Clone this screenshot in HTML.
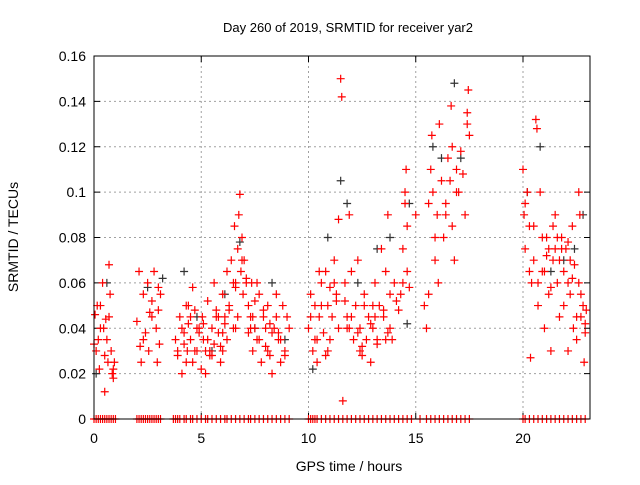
<!DOCTYPE html>
<html><head><meta charset="utf-8"><style>
body{margin:0;background:#fff;}
svg text{font-family:"Liberation Sans",sans-serif;}
</style></head><body>
<svg id="chart" width="640" height="480">
<text x="348" y="32" font-size="13" text-anchor="middle">Day 260 of 2019, SRMTID for receiver yar2</text>
<text x="349" y="471" font-size="14" text-anchor="middle">GPS time / hours</text>
<text x="18" y="237" font-size="14" text-anchor="middle" transform="rotate(-90 18 237)">SRMTID / TECUs</text>
<g id="grid"></g><g id="ticks"></g><g id="marks"></g>
<rect x="94" y="56" width="496" height="363" fill="none" stroke="#000" stroke-width="1"/>
</svg>
<script>
const xTicks=[0,5,10,15,20];
const yTicks=[0,0.02,0.04,0.06,0.08,0.1,0.12,0.14,0.16];
const yTickLabels=["0","0.02","0.04","0.06","0.08","0.1","0.12","0.14","0.16"];
const redT=[0,.05,.1,.15,.2,.25,.3,.4,.45,.5,.55,.6,.65,.7,.75,.8,.85,.9,.95,.5,
2,2.1,2.15,2.2,2.3,2.4,2.5,2.55,2.6,2.7,2.8,2.9,2.95,3,3.05,3.1,
3.8,3.9,4,4.1,4.2,4.3,4.35,4.4,4.5,4.6,4.7,4.8,4.9,5,5.05,5.1,5.2,5.3,5.4,5.5,5.6,5.7,5.8,5.9,6,6.1,6.2,6.3,6.4,6.5,6.55,6.6,6.7,6.75,6.8,6.85,6.9,6.95,7,7.1,7.2,7.3,7.35,7.4,7.5,7.6,7.7,7.8,7.9,8,8.1,8.2,8.3,8.4,8.5,8.6,8.7,8.8,8.9,9,9.1,6.2,5.6,4.6,7.6,5.2,6,4.4,5.8,6.6,7.2,8.2,
10,10.1,10.2,10.3,10.4,10.5,10.6,10.7,10.8,10.9,11,11.1,11.2,11.3,11.4,11.5,11.55,11.6,11.7,11.8,11.9,12,12.1,12.2,12.3,12.4,12.5,12.6,12.7,12.8,12.9,13,13.1,13.2,13.3,13.4,13.5,13.6,13.7,13.8,13.9,14,14.2,14.4,14.5,14.55,14.6,14.7,14.5,14.6,10.5,11,11.8,12.4,13,13.6,
15,15.4,15.5,15.6,15.7,15.75,15.8,15.9,16,16.05,16.1,16.3,16.4,16.5,16.6,16.65,16.7,16.8,16.9,17,17.1,17.3,17.4,17.45,17.5,
20,20.05,20.1,20.2,20.3,20.35,20.4,20.5,20.6,20.65,20.7,20.8,20.9,21,21.1,21.2,21.3,21.4,21.5,21.6,21.7,21.8,21.9,22,22.1,22.2,22.3,22.35,22.4,22.5,22.6,22.65,22.7,22.8,22.85,22.9,22.95,21.2,21.6,22.1,
0.3,0.7,0.9,2.3,2.7,3.0,3.9,4.1,4.3,4.5,4.7,4.9,5.1,5.3,5.5,5.7,5.9,6.1,6.3,6.5,6.7,6.9,7.1,7.3,7.5,7.7,7.9,8.1,8.3,8.5,8.7,8.9,4.2,4.8,5.4,6.0,6.6,7.4,8.0,8.6,
10.1,10.3,10.6,10.9,11.2,11.4,11.7,12.0,12.3,12.6,12.9,13.2,13.5,13.8,14.1,14.4,10.4,10.8,11.3,11.9,12.5,13.1,13.7,14.3,
15.6,15.9,16.2,16.4,16.7,16.9,17.2,17.4,
20.1,20.3,20.5,20.7,20.9,21.1,21.3,21.5,21.7,21.9,22.1,22.3,22.5,22.7,22.9,21.0,21.4,21.8,22.2,22.6];
const redV=[.033,.046,.03,.05,.035,.022,.05,.06,.04,.028,.044,.035,.025,.068,.055,.03,.02,.018,.025,.012,
.043,.065,.032,.025,.055,.038,.06,.03,.047,.052,.065,.04,.025,.048,.033,.055,
.035,.028,.045,.02,.038,.05,.03,.042,.035,.025,.048,.03,.04,.022,.045,.035,.03,.052,.028,.04,.033,.045,.038,.025,.055,.042,.065,.048,.07,.06,.085,.04,.075,.09,.099,.065,.08,.055,.07,.062,.05,.045,.06,.03,.04,.035,.055,.025,.045,.032,.05,.028,.02,.04,.055,.035,.025,.05,.03,.045,.04,.035,.06,.058,.06,.02,.03,.05,.045,.06,.038,.042,
.04,.055,.03,.05,.025,.045,.06,.038,.065,.05,.035,.045,.07,.055,.088,.15,.142,.008,.06,.045,.09,.065,.035,.05,.07,.04,.028,.055,.035,.045,.025,.04,.06,.033,.05,.075,.045,.065,.09,.055,.035,.06,.048,.075,.095,.11,.065,.058,.1,.085,.065,.058,.04,.03,.05,.035,
.09,.05,.04,.055,.11,.125,.1,.07,.09,.06,.13,.08,.095,.115,.105,.138,.085,.07,.11,.1,.118,.09,.13,.145,.125,
.11,.09,.075,.1,.085,.027,.06,.07,.132,.128,.05,.1,.065,.04,.08,.055,.03,.07,.09,.06,.045,.08,.065,.075,.03,.055,.085,.04,.068,.035,.1,.09,.045,.05,.025,.038,.048,.075,.08,.06,
.04,.045,.022,.035,.045,.058,.03,.04,.025,.045,.03,.038,.042,.035,.028,.048,.032,.045,.05,.04,.045,.07,.06,.04,.052,.035,.048,.03,.038,.045,.035,.028,.033,.04,.03,.038,.058,.045,.04,.038,
.045,.035,.05,.03,.06,.04,.052,.045,.038,.05,.042,.035,.048,.04,.052,.06,.035,.028,.052,.04,.032,.045,.038,.055,
.095,.08,.105,.09,.12,.1,.108,.135,
.095,.065,.085,.06,.08,.072,.058,.075,.07,.05,.078,.062,.045,.055,.042,.065,.085,.075,.07,.06];
const blackT=[0.1,0.6,2.5,3.2,4.2,4.8,5.5,6.1,6.8,7.5,8.3,8.9,10.2,10.9,11.5,11.8,12.3,13.2,13.8,14.6,14.7,15.8,16.2,16.8,17.1,20.2,20.8,21.3,21.9,22.4,22.8];
const blackV=[.02,.06,.058,.062,.065,.045,.03,.055,.078,.04,.06,.035,.022,.08,.105,.095,.06,.075,.08,.042,.095,.12,.115,.148,.115,.1,.12,.065,.07,.075,.09];
const zeroT=[0,.1,.2,.3,.4,.5,.6,.7,.8,.9,1,2,2.1,2.2,2.3,2.4,2.5,2.6,2.7,2.8,2.9,3,3.1,3.7,3.8,3.9,4,4.2,4.3,4.5,4.6,4.8,5,5.2,5.3,5.5,5.7,5.9,6.1,6.2,6.4,6.6,6.8,7,7.2,7.3,7.5,7.7,7.9,8.1,8.3,8.5,8.7,8.9,9.1,10,10.1,10.2,10.3,10.4,10.6,10.8,11,11.2,11.4,11.6,11.8,12,12.2,12.4,12.6,12.8,13,13.2,13.4,13.6,13.8,14,14.2,14.4,14.6,14.8,15.2,15.5,15.7,15.9,16.1,16.3,16.5,16.7,16.9,17.1,17.3,17.5,20,20.1,20.3,20.5,20.7,20.9,21.1,21.3,21.5,21.7,21.9,22.1,22.3,22.5,22.7,22.9];
const X=t=>94+t*21.45, Y=v=>419-v*2268.75;
const NS="http://www.w3.org/2000/svg";
function mk(tag,attrs,parent){const e=document.createElementNS(NS,tag);for(const k in attrs)e.setAttribute(k,attrs[k]);parent.appendChild(e);return e;}
const grid=document.getElementById('grid'),ticks=document.getElementById('ticks'),marks=document.getElementById('marks');
yTicks.forEach((v,i)=>{
 if(i>0&&i<yTicks.length-1){const g=mk('line',{x1:94,x2:590,y1:Y(v),y2:Y(v),stroke:'#a0a0a0','stroke-dasharray':'2,3'},grid);
 
 }
 mk('line',{x1:94,x2:100,y1:Y(v),y2:Y(v),stroke:'#000'},ticks);
 mk('line',{x1:584,x2:590,y1:Y(v),y2:Y(v),stroke:'#000'},ticks);
 const t=mk('text',{x:86,y:Y(v)+5,'font-size':14,'text-anchor':'end'},ticks);t.textContent=yTickLabels[i];
 
 
});
xTicks.forEach(v=>{
 if(v>0){const g=mk('line',{x1:X(v),x2:X(v),y1:56,y2:419,stroke:'#a0a0a0','stroke-dasharray':'2,3'},grid);
 
 }
 mk('line',{x1:X(v),x2:X(v),y1:419,y2:413,stroke:'#000'},ticks);
 mk('line',{x1:X(v),x2:X(v),y1:56,y2:62,stroke:'#000'},ticks);
 const t=mk('text',{x:X(v),y:443,'font-size':14,'text-anchor':'middle'},ticks);t.textContent=String(v);
 
 
});
function plus(t,v,col,name){const x=X(t),y=Y(v);
 const p=mk('path',{d:`M${x-4} ${y}H${x+4}M${x} ${y-4}V${y+4}`,stroke:col,'stroke-width':1.2,fill:'none'},marks);
 
 }
blackT.forEach((t,i)=>plus(t,blackV[i],'#333','black-point'));
redT.forEach((t,i)=>plus(t,redV[i],'#ff0000','red-point'));
zeroT.forEach(t=>plus(t,0,'#ff0000','zero-point'));
</script>
</body></html>
